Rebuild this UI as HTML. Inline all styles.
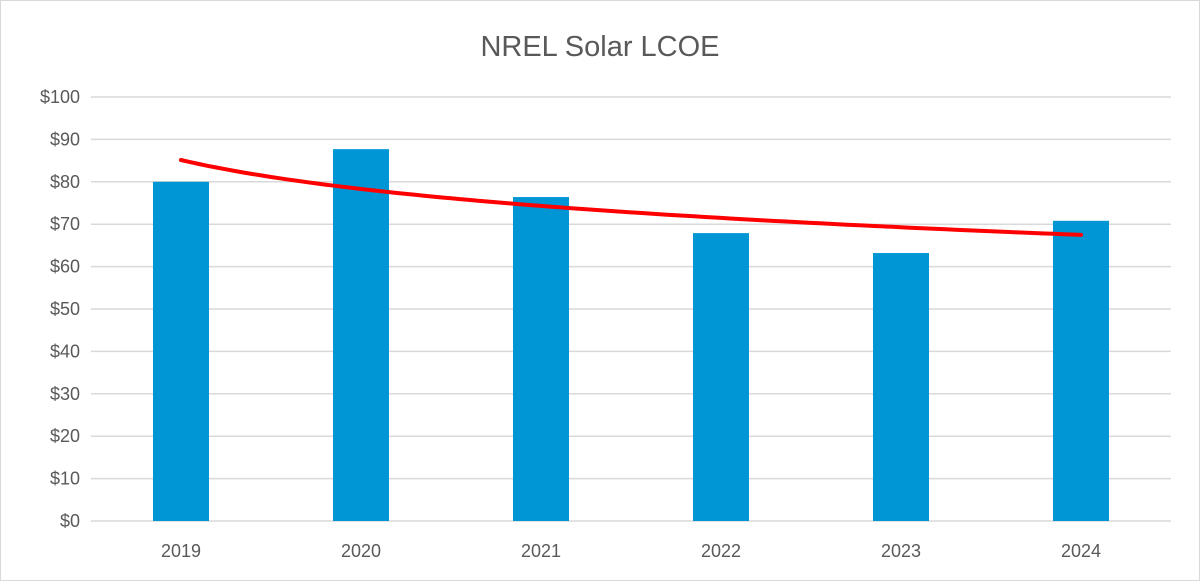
<!DOCTYPE html>
<html><head><meta charset="utf-8"><style>
html,body{margin:0;padding:0;background:#fff;}
svg{display:block;font-family:"Liberation Sans",Arial,sans-serif;}
</style></head><body>
<svg id="chart" width="1200" height="581" viewBox="0 0 1200 581">
<rect x="0.5" y="0.5" width="1199" height="580" fill="#fff" stroke="#d9d9d9"/>
<text x="600" y="56" text-anchor="middle" font-size="29" fill="#595959">NREL Solar LCOE</text>
<g id="grid"></g>
<g id="ylabels"></g>
<g id="bars"></g>
<g id="xlabels"></g>
<path id="trend" fill="none" stroke="#ff0000" stroke-width="4" stroke-linecap="round"/>
</svg>
<script>
const categories = ["2019","2020","2021","2022","2023","2024"];
const lcoeValues = [80.0, 87.7, 76.4, 67.9, 63.2, 70.8];
const yTicks = [0,10,20,30,40,50,60,70,80,90,100];

const NS="http://www.w3.org/2000/svg";
const x0=91, x1=1171, y0=521, y1=97, yMax=100;
const band=(x1-x0)/categories.length, barW=56;
function yS(v){return y0-(v/yMax)*(y0-y1);}
function xC(i){return x0+band*(i+0.5);}
function mk(tag,attrs,parent){const e=document.createElementNS(NS,tag);for(const k in attrs)e.setAttribute(k,attrs[k]);parent.appendChild(e);return e;}

const grid=document.getElementById('grid'), yl=document.getElementById('ylabels');
yTicks.forEach(t=>{
  const l=mk('line',{x1:x0,x2:x1,y1:yS(t),y2:yS(t),stroke:'#d9d9d9','stroke-width':1.5},grid);
  
  
  const tx=mk('text',{x:80,y:yS(t)+6,'text-anchor':'end','font-size':18,fill:'#595959'},yl);
  tx.textContent='$'+t;
  
  
});
const bars=document.getElementById('bars'), xl=document.getElementById('xlabels');
categories.forEach((c,i)=>{
  const v=lcoeValues[i];
  const r=mk('rect',{x:xC(i)-barW/2,y:yS(v),width:barW,height:y0-yS(v),fill:'#0096d6'},bars);
  
  
  const tx=mk('text',{x:xC(i),y:557,'text-anchor':'middle','font-size':18,fill:'#595959'},xl);
  tx.textContent=c;
  
  
});
// logarithmic trendline fit
const n=lcoeValues.length;
const lx=lcoeValues.map((_,i)=>Math.log(i+1));
const mx=lx.reduce((a,b)=>a+b)/n, my=lcoeValues.reduce((a,b)=>a+b)/n;
let sxy=0,sxx=0;lx.forEach((x,i)=>{sxy+=(x-mx)*(lcoeValues[i]-my);sxx+=(x-mx)*(x-mx);});
const b=sxy/sxx, a=my-b*mx;
let d='';
for(let s=0;s<=100;s++){const t=1+(n-1)*s/100;const px=xC(t-1);const py=yS(a+b*Math.log(t));d+=(s?'L':'M')+px.toFixed(1)+','+py.toFixed(1);}
document.getElementById('trend').setAttribute('d',d);
</script>
</body></html>
